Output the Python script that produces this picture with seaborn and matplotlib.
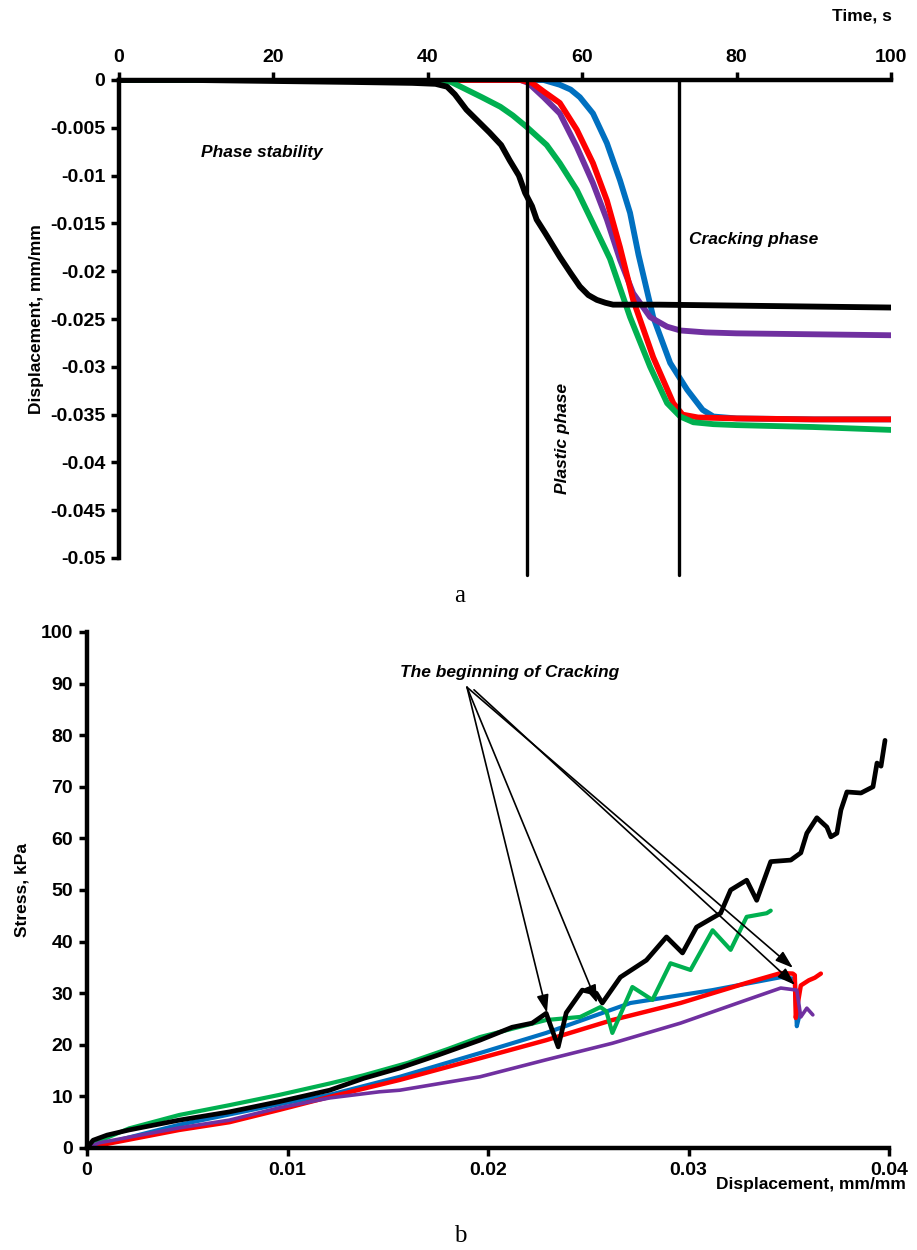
import matplotlib
matplotlib.use("Agg")
import matplotlib.pyplot as plt
import seaborn as sns

# ---- panel a: displacement vs time ----
time_black = [0, 10, 20, 30, 38, 41, 42.5, 43.5, 45, 46.5, 48, 49.5, 50.6, 51.8, 52.6, 53.5, 54.1,
              55.2, 57.1, 58.5, 59.7, 60.8, 61.9, 63, 64, 70, 80, 90, 100]
disp_black = [0, 0, -0.0001, -0.0002, -0.0003, -0.0004, -0.0007, -0.0015, -0.0031, -0.0043, -0.0055,
              -0.0068, -0.0084, -0.0100, -0.0118, -0.0132, -0.0146, -0.0160, -0.0185, -0.0202, -0.0216,
              -0.0225, -0.0230, -0.0233, -0.0235, -0.0235, -0.0236, -0.0237, -0.0238]

time_green = [0, 41, 43, 45, 47, 49.4, 51, 52.8, 55.4, 57.1, 59.3, 61.4, 63.6, 66.2, 68.8, 71, 72.7,
              74.4, 77, 80, 90, 100]
disp_green = [0, 0, -0.0002, -0.0010, -0.0018, -0.0028, -0.0037, -0.0049, -0.0068, -0.0087, -0.0115,
              -0.0150, -0.0187, -0.0248, -0.0300, -0.0338, -0.0352, -0.0358, -0.0360, -0.0361, -0.0363,
              -0.0366]

time_red = [0, 52, 53.5, 55, 57.1, 59.3, 61.4, 63.2, 64.9, 66.6, 69.2, 71.8, 73, 75, 80, 90, 100]
disp_red = [0, 0, -0.0003, -0.0012, -0.0024, -0.0052, -0.0087, -0.0126, -0.0175, -0.0230, -0.0290,
            -0.0338, -0.0350, -0.0353, -0.0354, -0.0355, -0.0355]

time_purple = [0, 52, 53, 55, 57.1, 59.3, 61.4, 63.2, 64.9, 66.6, 68.8, 71, 72.7, 76, 80, 90, 100]
disp_purple = [0, 0, -0.0003, -0.0018, -0.0035, -0.0070, -0.0108, -0.0146, -0.0188, -0.0223, -0.0248,
               -0.0258, -0.0262, -0.0264, -0.0265, -0.0266, -0.0267]

time_blue = [0, 55, 57.1, 58.5, 59.7, 61.4, 63.2, 64.9, 66.2, 67.3, 69.2, 71.4, 73.6, 75.6, 77, 80, 90, 100]
disp_blue = [0, 0, -0.0005, -0.0010, -0.0018, -0.0035, -0.0066, -0.0105, -0.0139, -0.0183, -0.0248,
             -0.0296, -0.0324, -0.0345, -0.0352, -0.0354, -0.0355, -0.0355]

phase_bounds = [52.8, 72.5]
time_ticks = [0, 20, 40, 60, 80, 100]
disp_ticks = [0, -0.005, -0.01, -0.015, -0.02, -0.025, -0.03, -0.035, -0.04, -0.045, -0.05]
disp_labels = ["0", "-0.005", "-0.01", "-0.015", "-0.02", "-0.025", "-0.03", "-0.035", "-0.04",
               "-0.045", "-0.05"]

# ---- panel b: stress vs displacement ----
strain_black = [0, 0.0003, 0.001, 0.0021, 0.0046, 0.0071, 0.0096, 0.0121, 0.0138, 0.0156, 0.0175,
                0.0196, 0.0212, 0.0222, 0.0229, 0.0235, 0.0239, 0.0247, 0.0254, 0.0257, 0.0266, 0.0279,
                0.0289, 0.0297, 0.0304, 0.0316, 0.0321, 0.0329, 0.0334, 0.0341, 0.0351, 0.0356, 0.0359,
                0.0364, 0.0369, 0.0371, 0.0374, 0.0376, 0.0379, 0.0386, 0.0392, 0.0394, 0.0396, 0.0398]
stress_black = [0, 1.5, 2.5, 3.5, 5.4, 7, 9, 11.2, 13.5, 15.5, 18, 20.9, 23.4, 24.2, 26.1, 19.6, 26.2,
                30.6, 30, 28.1, 33.1, 36.4, 40.9, 37.8, 42.8, 45.5, 50, 51.9, 48, 55.5, 55.8, 57.2, 61,
                64, 62.2, 60.3, 61, 65.5, 69, 68.8, 70, 74.6, 74, 79]

strain_green = [0, 0.001, 0.0021, 0.0046, 0.0071, 0.0096, 0.0121, 0.0138, 0.0160, 0.0180, 0.0196,
                0.0229, 0.0246, 0.0256, 0.0259, 0.0262, 0.0272, 0.0282, 0.0291, 0.0301, 0.0312, 0.0321,
                0.0329, 0.0339, 0.0341]
stress_green = [0, 2, 3.8, 6.4, 8.3, 10.3, 12.5, 14.1, 16.5, 19.2, 21.5, 24.8, 25.4, 27.3, 26.5, 22.3,
                31.2, 28.7, 35.8, 34.5, 42.2, 38.4, 44.8, 45.5, 46]

strain_red = [0, 0.0006, 0.0046, 0.0071, 0.0096, 0.0121, 0.0156, 0.0196, 0.0229, 0.0262, 0.0296,
              0.0329, 0.0346, 0.0352, 0.0353, 0.03535, 0.03545, 0.0356, 0.0360, 0.0363, 0.0366]
stress_red = [0, 0.5, 3.5, 5, 7.4, 9.9, 13.2, 17.4, 20.9, 24.8, 28.1, 32, 33.9, 33.8, 33.5, 25.2, 28,
              31.5, 32.5, 33, 33.8]

strain_blue = [0, 0.0046, 0.0096, 0.0121, 0.0156, 0.0196, 0.0229, 0.0271, 0.0312, 0.0346, 0.0353,
               0.0354, 0.03555]
stress_blue = [0, 4.5, 8.5, 10.3, 13.8, 18.4, 22.3, 28.1, 30.6, 33.1, 32.8, 23.6, 26]

strain_purple = [0, 0.0006, 0.0046, 0.0071, 0.0096, 0.0121, 0.0146, 0.0156, 0.0196, 0.0229, 0.0262,
                 0.0296, 0.0329, 0.0346, 0.0354, 0.0356, 0.0359, 0.0362]
stress_purple = [0, 1, 3.9, 5.4, 7.8, 9.7, 10.9, 11.2, 13.8, 17.1, 20.3, 24.2, 28.7, 31, 30.6, 25.4,
                 27.1, 25.8]

crack_targets = [(0.02294, 26.2), (0.02544, 28.1), (0.03521, 34.9), (0.03531, 31.6)]
strain_ticks = [0, 0.01, 0.02, 0.03, 0.04]
strain_labels = ["0", "0.01", "0.02", "0.03", "0.04"]
stress_ticks = list(range(0, 101, 10))

GREEN, RED, PURPLE, BLUE = "#00B050", "#FF0000", "#7030A0", "#0070C0"

sns.set_theme(style="white")
plt.rcParams["font.family"] = ["Liberation Sans", "DejaVu Sans"]
plt.rcParams["font.weight"] = "bold"
plt.rcParams["text.color"] = "black"
plt.rcParams["axes.labelcolor"] = "black"
plt.rcParams["xtick.color"] = "black"
plt.rcParams["ytick.color"] = "black"

fig = plt.figure(figsize=(9.17, 12.5), dpi=100)

# ================= panel a =================
ax1 = fig.add_axes([0.1298, 0.5536, 0.8418, 0.3824])
for t, d, c, lw in [(time_blue, disp_blue, BLUE, 4.2), (time_purple, disp_purple, PURPLE, 4.2),
                    (time_red, disp_red, RED, 4.2), (time_green, disp_green, GREEN, 4.2),
                    (time_black, disp_black, "black", 4.2)]:
    sns.lineplot(x=t, y=d, color=c, linewidth=lw, sort=False, estimator=None, ax=ax1)
for xb in phase_bounds:
    ax1.plot([xb, xb], [0, -0.0518], color="black", lw=2.4, clip_on=False, zorder=5)

ax1.set_xlim(0, 100)
ax1.set_ylim(-0.05, 0)
ax1.xaxis.tick_top()
ax1.set_xticks(time_ticks)
ax1.set_xticklabels([str(v) for v in time_ticks])
ax1.set_yticks(disp_ticks)
ax1.set_yticklabels(disp_labels)
for s in ["right", "bottom"]:
    ax1.spines[s].set_visible(False)
for s in ["left", "top"]:
    ax1.spines[s].set_linewidth(3.2)
    ax1.spines[s].set_color("black")
    ax1.spines[s].set_zorder(6)
ax1.tick_params(axis="both", direction="out", length=6, width=2.5, colors="black",
                labelsize=14, pad=4)
ax1.tick_params(axis="x", top=True, bottom=False, labeltop=True, labelbottom=False)
ax1.tick_params(axis="y", left=True)
for lab in ax1.get_xticklabels() + ax1.get_yticklabels():
    lab.set_fontweight("bold")
ax1.set_xlabel("")
ax1.set_ylabel("Displacement, mm/mm", fontsize=12.5, fontweight="bold", labelpad=4)

ax1.text(18.5, -0.0076, "Phase stability", fontsize=12.5, fontweight="bold", style="italic",
         ha="center", va="center")
ax1.text(73.8, -0.0167, "Cracking phase", fontsize=12.5, fontweight="bold", style="italic",
         ha="left", va="center")
ax1.text(57.4, -0.03745, "Plastic phase", fontsize=12.5, fontweight="bold", style="italic",
         ha="center", va="center", rotation=90)
fig.text(0.94, 0.987, "Time, s", fontsize=12.5, fontweight="bold", ha="center", va="center")
fig.text(0.5016, 0.5232, "a", fontsize=18, family=["Liberation Serif", "DejaVu Serif"],
         fontweight="normal", ha="center", va="center")

# ================= panel b =================
ax2 = fig.add_axes([0.0949, 0.0816, 0.8746, 0.4128])
for x, y, c, lw in [(strain_blue, stress_blue, BLUE, 3.0), (strain_red, stress_red, RED, 3.2),
                    (strain_green, stress_green, GREEN, 3.0), (strain_purple, stress_purple, PURPLE, 2.6),
                    (strain_black, stress_black, "black", 3.4)]:
    sns.lineplot(x=x, y=y, color=c, linewidth=lw, sort=False, estimator=None, ax=ax2)

origin = (0.01895, 89.3)
for i, tgt in enumerate(crack_targets):
    src = origin if i < 3 else (0.0193, 88.8)
    ax2.annotate("", xy=tgt, xytext=src,
                 arrowprops=dict(arrowstyle="-|>,head_length=0.9,head_width=0.3", color="black",
                                 lw=1.2, shrinkA=0, shrinkB=0), zorder=6)
ax2.text(0.0211, 92.1, "The beginning of Cracking", fontsize=12.5, fontweight="bold",
         style="italic", ha="center", va="center")

ax2.set_xlim(0, 0.04)
ax2.set_ylim(0, 100)
ax2.set_xticks(strain_ticks)
ax2.set_xticklabels(strain_labels)
ax2.set_yticks(stress_ticks)
ax2.set_yticklabels([str(v) for v in stress_ticks])
for s in ["right", "top"]:
    ax2.spines[s].set_visible(False)
for s in ["left", "bottom"]:
    ax2.spines[s].set_linewidth(3.2)
    ax2.spines[s].set_color("black")
ax2.tick_params(axis="both", direction="out", length=6, width=2.5, colors="black",
                labelsize=14, pad=4, left=True, bottom=True)
for lab in ax2.get_xticklabels() + ax2.get_yticklabels():
    lab.set_fontweight("bold")
ax2.set_xlabel("")
ax2.set_ylabel("Stress, kPa", fontsize=12.5, fontweight="bold", labelpad=8)
fig.text(0.988, 0.0525, "Displacement, mm/mm", fontsize=12.5, fontweight="bold",
         ha="right", va="center")
fig.text(0.5016, 0.0112, "b", fontsize=18, family=["Liberation Serif", "DejaVu Serif"],
         fontweight="normal", ha="center", va="center")

fig.savefig("out.png", dpi=100, facecolor="white")
